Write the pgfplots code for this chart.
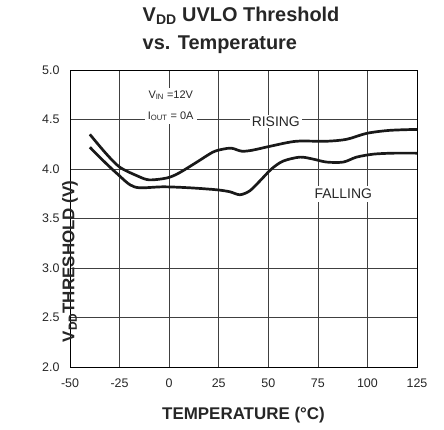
\documentclass[border=0pt]{standalone}
\usepackage{fontspec}
\setmainfont{Liberation Sans}
\usepackage{pgfplots}
\pgfplotsset{compat=1.18}
\begin{document}
\begin{tikzpicture}
\path[use as bounding box] (-70bp,-63bp) rectangle (374bp,367bp);
\begin{axis}[
    at={(0,0)}, anchor=south west,
    scale only axis,
    width=347bp, height=297bp,
    xmin=-50, xmax=125, ymin=2, ymax=5,
    xtick={-50,-25,0,25,50,75,100,125},
    xticklabels={-50,-25,0,25,50,75,100,125},
    ytick={2,2.5,3,3.5,4,4.5,5},
    yticklabels={2.0,2.5,3.0,3.5,4.0,4.5,5.0},
    grid=major,
    major grid style={black!75, line width=0.7pt},
    axis line style={black, line width=0.9pt},
    tick style={draw=none},
    tick label style={font=\fontsize{12.5}{14}\selectfont, text=black!85},
    xticklabel style={anchor=north, yshift=-8bp},
    yticklabel style={anchor=east, xshift=-7bp},
    xlabel={TEMPERATURE (°C)},
    xlabel style={at={(rel axis cs:0.5,0)}, anchor=center, yshift=-48bp,
        font=\bfseries\fontsize{17}{20}\selectfont, text=black!85},
    ylabel={V\textsubscript{DD}THRESHOLD (V)},
    ylabel style={at={(rel axis cs:0,0.5)}, anchor=center, xshift=-43bp,
        font=\bfseries\fontsize{17}{20}\selectfont, text=black!85},
    title={V\textsubscript{DD} UVLO Threshold\\vs. Temperature},
    title style={at={(rel axis cs:0.493,1)}, anchor=south, yshift=7bp,
        align=left, font=\bfseries\fontsize{20}{28}\selectfont, text=black!85},
]
% rising threshold
\addplot[black!90, line width=2.7bp, smooth] coordinates {
    (-40,4.35) (-32,4.16) (-25,4.02) (-16,3.93) (-10,3.89) (-1,3.91)
    (5,3.96) (14,4.07) (22,4.17) (27,4.20) (31.5,4.21) (36.6,4.18)
    (42,4.19) (51,4.23) (64,4.28) (79,4.28) (89.5,4.30) (99.6,4.36)
    (111,4.39) (125,4.40)
};
% falling threshold
\addplot[black!90, line width=2.7bp, smooth] coordinates {
    (-40,4.22) (-32,4.06) (-25,3.93) (-19.7,3.84) (-14.7,3.81) (-3,3.82)
    (10.5,3.81) (24,3.79) (30.6,3.77) (35.7,3.74) (40.7,3.78) (45.8,3.88)
    (51.6,4.00) (57.5,4.08) (66,4.12) (72.6,4.10) (79.4,4.07) (87.8,4.07)
    (94.5,4.12) (103,4.15) (113,4.16) (125,4.16)
};
\node[fill=white, inner sep=3pt, align=center, text=black!85, font=\fontsize{11}{21}\selectfont]
    at (axis cs:0.8,4.64) {V\textsubscript{IN} =12V\\I\textsubscript{OUT} = 0A};
\node[fill=white, inner sep=2pt, text=black!85, font=\fontsize{14}{16}\selectfont]
    at (axis cs:53.8,4.48) {RISING};
\node[fill=white, inner sep=3pt, text=black!85, font=\fontsize{14}{16}\selectfont]
    at (axis cs:87.8,3.748) {FALLING};
\end{axis}
\end{tikzpicture}
\end{document}
